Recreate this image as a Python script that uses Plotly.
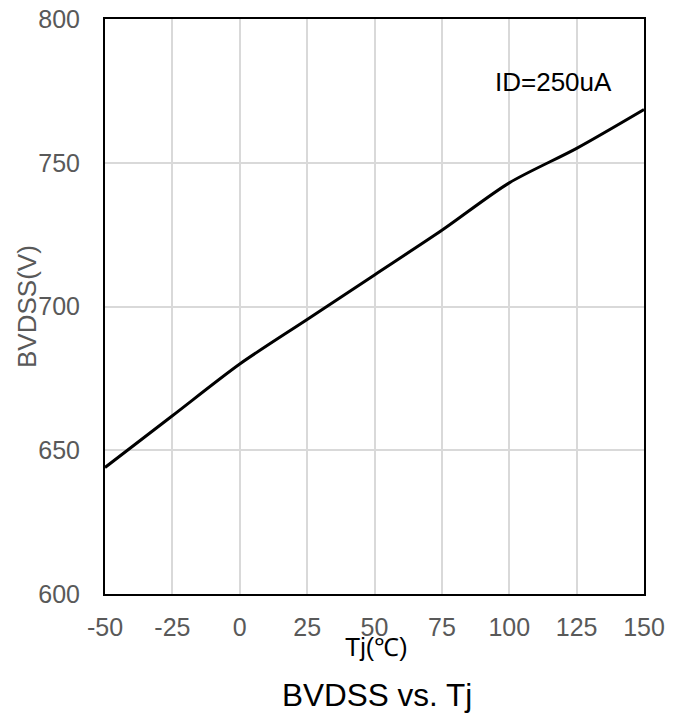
import plotly.graph_objects as go

# Breakdown voltage vs. junction temperature
tj = [-50, -25, 0, 25, 50, 75, 100, 125, 150]
bvdss = [644, 662, 680, 695.5, 711, 726.5, 743, 755, 768.5]

x_ticks = [-50, -25, 0, 25, 50, 75, 100, 125, 150]
y_ticks = [600, 650, 700, 750, 800]

FONT = "Arial, Liberation Sans, sans-serif"
GRAY = "#595959"

W, H = 681, 717
L, R, T, B = 105, 37, 19, 123
pw = W - L - R
ph = H - T - B


def px(p):
    # pixel column -> paper x
    return (p - L) / pw


def py(p):
    # pixel row -> paper y
    return (H - B - p) / ph


fig = go.Figure()
fig.add_trace(go.Scatter(
    x=tj, y=bvdss, mode="lines",
    line=dict(color="black", width=3, shape="spline", smoothing=0.8),
    showlegend=False, hoverinfo="skip",
))

axis_common = dict(
    showgrid=True, gridcolor="#d9d9d9", gridwidth=1.5,
    showline=True, linecolor="black", linewidth=2, mirror=True,
    zeroline=False, ticks="", automargin=False,
    tickfont=dict(family=FONT, size=25, color=GRAY),
)

fig.update_layout(
    width=W, height=H,
    margin=dict(l=L, r=R, t=T, b=B),
    paper_bgcolor="white", plot_bgcolor="white",
    font=dict(family=FONT, size=25, color=GRAY),
    xaxis=dict(range=[-50, 150], tickvals=x_ticks,
               ticktext=[str(v) for v in x_ticks],
               ticklabelstandoff=10, **axis_common),
    yaxis=dict(range=[600, 800], tickvals=y_ticks,
               ticktext=[str(v) for v in y_ticks],
               ticklabelstandoff=18, **axis_common),
)

fig.add_annotation(text="ID=250uA", x=px(553), y=py(82), xref="paper", yref="paper",
                   showarrow=False, font=dict(family=FONT, size=26, color="black"),
                   xanchor="center", yanchor="middle")
fig.add_annotation(text="Tj(℃)", x=px(376), y=py(647), xref="paper", yref="paper",
                   showarrow=False, font=dict(family=FONT, size=25, color="black"),
                   xanchor="center", yanchor="middle")
fig.add_annotation(text="BVDSS vs. Tj", x=px(377), y=py(695), xref="paper", yref="paper",
                   showarrow=False, font=dict(family=FONT, size=31.5, color="black"),
                   xanchor="center", yanchor="middle")
fig.add_annotation(text="BVDSS(V)", x=px(27), y=py(307), xref="paper", yref="paper",
                   showarrow=False, textangle=-90,
                   font=dict(family=FONT, size=26, color=GRAY),
                   xanchor="center", yanchor="middle")

fig.write_html("out.html")
